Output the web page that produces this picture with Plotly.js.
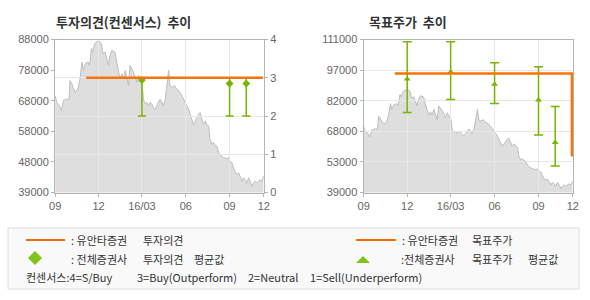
<!DOCTYPE html>
<html><head><meta charset="utf-8">
<script src="https://cdn.plot.ly/plotly-3.0.1.min.js"></script>
<style>html,body{margin:0;padding:0;background:#fff;}#chart{width:590px;height:300px;}</style>
</head><body><div id="chart"></div>
<script>
// ---- data ----
const priceDates = ['2015-09-01','2015-09-04','2015-09-10','2015-09-14','2015-09-18','2015-09-24','2015-09-30','2015-10-02','2015-10-06','2015-10-08','2015-10-13','2015-10-19','2015-10-23','2015-10-27','2015-10-30','2015-11-03','2015-11-09','2015-11-12','2015-11-16','2015-11-18','2015-11-23','2015-11-27','2015-12-02','2015-12-07','2015-12-10','2015-12-15','2015-12-18','2015-12-22','2015-12-24','2015-12-29','2016-01-04','2016-01-05','2016-01-08','2016-01-12','2016-01-15','2016-01-19','2016-01-22','2016-01-26','2016-01-29','2016-02-02','2016-02-05','2016-02-11','2016-02-12','2016-02-16','2016-02-19','2016-02-23','2016-02-26','2016-03-02','2016-03-04','2016-03-08','2016-03-11','2016-03-15','2016-03-18','2016-03-22','2016-03-25','2016-03-29','2016-04-01','2016-04-05','2016-04-08','2016-04-12','2016-04-15','2016-04-19','2016-04-22','2016-04-26','2016-04-29','2016-05-03','2016-05-09','2016-05-10','2016-05-13','2016-05-17','2016-05-20','2016-05-24','2016-05-27','2016-05-31','2016-06-03','2016-06-07','2016-06-10','2016-06-14','2016-06-17','2016-06-21','2016-06-24','2016-06-28','2016-07-01','2016-07-05','2016-07-08','2016-07-12','2016-07-15','2016-07-19','2016-07-22','2016-07-26','2016-07-29','2016-08-02','2016-08-05','2016-08-09','2016-08-12','2016-08-16','2016-08-19','2016-08-23','2016-08-26','2016-08-30','2016-09-02','2016-09-06','2016-09-09','2016-09-13','2016-09-19','2016-09-20','2016-09-23','2016-09-27','2016-09-30','2016-10-04','2016-10-07','2016-10-11','2016-10-14','2016-10-18','2016-10-21','2016-10-25','2016-10-28','2016-11-01','2016-11-04','2016-11-08','2016-11-11'];
const prices = [70000,67900,66800,65200,68400,68900,68900,74900,73800,72700,71100,72200,75400,80800,78100,80300,80800,79700,85100,84000,86600,87300,87500,86600,83500,84000,81900,79700,82400,84500,84000,83500,80800,77000,75400,77000,75400,78100,75400,73200,79700,78100,77600,76000,74300,76500,75400,73200,68900,67300,67900,66800,67900,67300,66300,65700,66800,67900,68900,67900,66800,68900,72200,78100,73200,72700,73200,72700,72200,71600,71100,70000,68900,67300,66800,65700,64100,61900,60800,61900,63000,64100,64600,62500,60800,61900,60800,60300,56000,54400,55000,53900,53900,51700,51200,50600,50100,50100,49800,50100,49000,48500,47400,45300,44700,45300,44200,42600,43700,43100,42000,43700,42600,40900,42000,42600,42000,42600,43100,42600,44200];

const opinionBarDates = ['2016-03-01','2016-09-01','2016-10-06'];
const opinionMean = [2.94, 2.85, 2.85];
const opinionMax  = [3, 3, 3];
const opinionMin  = [2, 2, 2];

const targetBarDates = ['2015-12-01','2016-03-01','2016-06-01','2016-09-01','2016-10-06'];
const targetMean = [92400, 95700, 90000, 82500, 62500];
const targetMax  = [110000, 110000, 100100, 98200, 79500];
const targetMin  = [76700, 82800, 80900, 66100, 51500];

const yuantaOpinionDates = ['2015-11-05','2016-11-10'];
const yuantaOpinion = [3, 3];
const yuantaTargetDates = ['2015-11-05','2016-11-10','2016-11-10'];
const yuantaTarget = [95000, 95000, 56000];

const xTickVals = ['2015-09-01','2015-12-01','2016-03-01','2016-06-01','2016-09-01','2016-11-12'];
const xTickText = ['09','12','16/03','06','09','12'];
const leftPriceTickText  = ['39000','48000','58000','68000','78000','88000'];
const opinionTickVals = [0,1,2,3,4];
const rightPriceTickText = ['39000','53000','68000','82000','97000','111000'];

const chartTitles = ['투자의견(컨센서스)  추이', '목표주가  추이'];
const legendLabels = [
  [': 유안타증권', '투자의견'],
  [': 전체증권사', '투자의견', '평균값'],
  [': 유안타증권', '목표주가'],
  [':전체증권사', '목표주가', '평균값']
];
const consensusKey = ['컨센서스:4=S/Buy', '3=Buy(Outperform)', '2=Neutral', '1=Sell(Underperform)'];

// ---- layout helpers ----
const W = 590, H = 300;
const px = x => x / W, py = y => 1 - y / H;
const Ldom = [px(55), px(264)], Rdom = [px(363.5), px(573)], Ydom = [py(192.5), py(39.5)];
const xRange = ['2015-08-31 12:00', '2016-11-12 06:00'];
const leftRange = [39000, 88000], rightRange = [39000, 111000];
const even = (r, n) => Array.from({length: n + 1}, (_, i) => r[0] + (r[1] - r[0]) * i / n);

const FRAME = '#b4b4b4', GRID = '#e8e8e8';
const tickFont = {family: 'Liberation Sans, Arial, sans-serif', size: 11, color: '#666'};
const KR = 'Noto Sans CJK KR, sans-serif';
const BAR = '#76b500', ORANGE = '#ff7300';
const AREA = '#dedede', AREA_LINE = '#bdbdbd';

const traces = [
  {x: priceDates, y: prices, xaxis: 'x', yaxis: 'y', mode: 'lines', fill: 'tozeroy',
   fillcolor: AREA, line: {color: AREA_LINE, width: 1}, hoverinfo: 'skip'},
  {x: opinionBarDates, y: opinionMean, xaxis: 'x2', yaxis: 'y2', mode: 'markers',
   marker: {symbol: 'diamond', size: 6, color: BAR},
   error_y: {type: 'data', symmetric: false,
     array: opinionMax.map((v, i) => v - opinionMean[i]),
     arrayminus: opinionMean.map((v, i) => v - opinionMin[i]),
     color: BAR, thickness: 1.5, width: 4}},
  {x: yuantaOpinionDates, y: yuantaOpinion, xaxis: 'x2', yaxis: 'y2', mode: 'lines',
   line: {color: ORANGE, width: 2.5}},
  {x: priceDates, y: prices, xaxis: 'x3', yaxis: 'y3', mode: 'lines', fill: 'tozeroy',
   fillcolor: AREA, line: {color: AREA_LINE, width: 1}, hoverinfo: 'skip'},
  {x: targetBarDates, y: targetMean, xaxis: 'x4', yaxis: 'y4', mode: 'markers',
   marker: {symbol: 'triangle-up', size: 6, color: BAR},
   error_y: {type: 'data', symmetric: false,
     array: targetMax.map((v, i) => v - targetMean[i]),
     arrayminus: targetMean.map((v, i) => v - targetMin[i]),
     color: BAR, thickness: 1.5, width: 4.5}},
  {x: yuantaTargetDates, y: yuantaTarget, xaxis: 'x4', yaxis: 'y4', mode: 'lines',
   line: {color: ORANGE, width: 2.5}}
];

const hiddenX = dom => ({domain: dom, type: 'date', range: xRange, visible: false, fixedrange: true});
const labelY = (anchor, r, txt) => ({domain: Ydom, anchor: anchor, range: r, tickvals: even(r, 5), ticktext: txt,
  showgrid: false, zeroline: false, showline: false, ticks: 'outside', ticklen: 3, tickcolor: FRAME,
  tickfont: tickFont, fixedrange: true});
const frameX = (dom, anchor) => ({domain: dom, anchor: anchor, type: 'date', range: xRange,
  tickmode: 'array', tickvals: xTickVals, ticktext: xTickText, showgrid: true, gridcolor: GRID, gridwidth: 1,
  showline: true, mirror: true, linecolor: FRAME, linewidth: 1, zeroline: false,
  ticks: 'outside', ticklen: 3, tickcolor: FRAME, tickfont: tickFont, fixedrange: true});

const txt = (text, x, y, size, extra) => Object.assign({text: text, xref: 'paper', yref: 'paper',
  x: px(x), y: py(y), xanchor: 'left', yanchor: 'middle', showarrow: false, borderpad: 0,
  font: {family: KR, size: size, color: '#333'}}, extra || {});

// legend word positions (left edges in px) and rows
const legendPos = [
  {y: 240, xs: [70, 142]},
  {y: 258.5, xs: [70, 142, 193]},
  {y: 240, xs: [400.5, 470.5]},
  {y: 258.5, xs: [399.5, 470.5, 526.5]}
];
const legendAnn = [];
legendLabels.forEach((words, r) => words.forEach((w, i) =>
  legendAnn.push(txt(w, legendPos[r].xs[i], legendPos[r].y, 11))));
const keyX = [25, 135.5, 247, 309];
consensusKey.forEach((w, i) => legendAnn.push(txt(w, keyX[i], 277, 11)));

const layout = {
  width: W, height: H, margin: {l: 0, r: 0, t: 0, b: 0},
  paper_bgcolor: '#fff', plot_bgcolor: 'rgba(0,0,0,0)', showlegend: false, hovermode: false,
  xaxis: hiddenX(Ldom),
  yaxis: labelY('x', leftRange, leftPriceTickText),
  xaxis2: frameX(Ldom, 'y2'),
  yaxis2: {domain: Ydom, anchor: 'x2', side: 'right', range: [0, 4], tickvals: opinionTickVals,
    showgrid: true, gridcolor: GRID, zeroline: false, showline: true, mirror: true, linecolor: FRAME,
    ticks: 'outside', ticklen: 3, tickcolor: FRAME, tickfont: tickFont, fixedrange: true},
  xaxis3: hiddenX(Rdom),
  yaxis3: labelY('x3', rightRange, rightPriceTickText),
  xaxis4: frameX(Rdom, 'y4'),
  yaxis4: {domain: Ydom, anchor: 'x4', range: rightRange, tickvals: even(rightRange, 5),
    showticklabels: false, showgrid: true, gridcolor: GRID, zeroline: false, showline: true, mirror: true,
    linecolor: FRAME, ticks: '', fixedrange: true},
  shapes: [
    {type: 'rect', xref: 'paper', yref: 'paper', x0: px(8), x1: px(579), y0: py(289), y1: py(228),
     fillcolor: '#f9f9f9', line: {color: '#dcdcdc', width: 1}, layer: 'below'},
    {type: 'line', xref: 'paper', yref: 'paper', x0: px(26), x1: px(65), y0: py(240), y1: py(240),
     line: {color: '#f06c00', width: 2}},
    {type: 'line', xref: 'paper', yref: 'paper', x0: px(356), x1: px(396), y0: py(240), y1: py(240),
     line: {color: '#f06c00', width: 2}},
    {type: 'path', xref: 'paper', yref: 'paper', xsizemode: 'pixel', ysizemode: 'pixel',
     xanchor: px(35), yanchor: py(258), path: 'M -7 0 L 0 7 L 7 0 L 0 -7 Z',
     fillcolor: '#7fc31c', line: {width: 0}},
    {type: 'path', xref: 'paper', yref: 'paper', xsizemode: 'pixel', ysizemode: 'pixel',
     xanchor: px(363), yanchor: py(260), path: 'M -7 -3 L 7 -3 L 0 4 Z',
     fillcolor: '#7fc31c', line: {width: 0}}
  ],
  annotations: [
    txt(chartTitles[0], 55, 21, 13, {font: {family: KR, size: 13, color: '#333', weight: 700}}),
    txt(chartTitles[1], 367.5, 21, 13, {font: {family: KR, size: 13, color: '#333', weight: 700}})
  ].concat(legendAnn)
};

Plotly.newPlot('chart', traces, layout, {staticPlot: true, displayModeBar: false});
</script></body></html>
